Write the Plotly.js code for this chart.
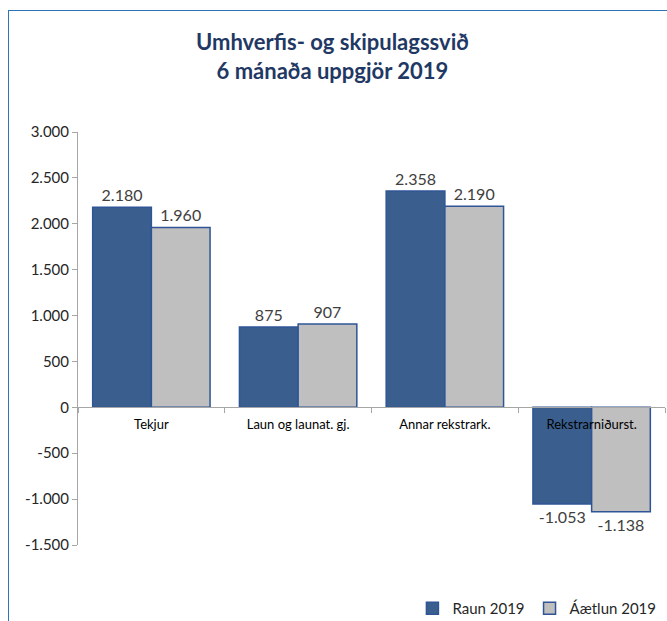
<!DOCTYPE html>
<html>
<head>
<meta charset="utf-8">
<script src="https://cdn.plot.ly/plotly-3.0.1.min.js"></script>
<style>
  html, body { margin: 0; padding: 0; background: #fff; }
  #frame { position: absolute; left: 8px; top: 10px; width: 659px; height: 611px;
           border-left: 1.5px solid #2E75B6; border-top: 1.5px solid #2E75B6; box-sizing: border-box; }
  #chart { position: absolute; left: 1px; top: 1px; width: 658px; height: 610px; }
</style>
</head>
<body>
<div id="frame"><div id="chart"></div></div>
<script>
const categories = ["Tekjur", "Laun og launat. gj.", "Annar rekstrark.", "Rekstrarniðurst."];
const raun2019 = [2180, 875, 2358, -1053];
const aaetlun2019 = [1960, 907, 2190, -1138];
const seriesNames = ["Raun 2019", "Áætlun 2019"];
const yTickVals = [-1500, -1000, -500, 0, 500, 1000, 1500, 2000, 2500, 3000];
const yTickText = ["-1.500", "-1.000", "-500", "0", "500", "1.000", "1.500", "2.000", "2.500", "3.000"];

function fmt(v) {
  const s = Math.abs(v).toString().replace(/\B(?=(\d{3})+(?!\d))/g, ".");
  return (v < 0 ? "-" : "") + s;
}

const font = "Lato, 'Open Sans', sans-serif";
const outline = { color: "#2F5597", width: 1.5 };

const traces = [
  {
    type: "bar", name: seriesNames[0], x: categories, y: raun2019,
    text: raun2019.map(fmt), textposition: "outside", cliponaxis: false,
    textfont: { family: font, size: 16, color: "#404040" },
    marker: { color: "#3A5F8F", line: outline }
  },
  {
    type: "bar", name: seriesNames[1], x: categories, y: aaetlun2019,
    text: aaetlun2019.map(fmt), textposition: "outside", cliponaxis: false,
    textfont: { family: font, size: 16, color: "#404040" },
    marker: { color: "#BFBFBF", line: outline }
  }
];

const layout = {
  width: 658, height: 610,
  margin: { l: 68, r: 3, t: 120, b: 77, autoexpand: false },
  paper_bgcolor: "#fff", plot_bgcolor: "#fff",
  font: { family: font, color: "#404040" },
  title: {
    text: "Umhverfis- og skipulagssvið<br>6 mánaða uppgjör 2019",
    font: { family: font, size: 22, color: "#1F3864", weight: "bold" },
    x: 0.49, xanchor: "center", y: 0.937, yanchor: "top"
  },
  barmode: "group", bargap: 0.2, bargroupgap: 0,
  showlegend: true,
  legend: {
    orientation: "h", xref: "container", yref: "container",
    x: 0.99, xanchor: "right", y: 0.022, yanchor: "middle",
    font: { family: font, size: 15, color: "#262626" }, traceorder: "normal"
  },
  xaxis: {
    anchor: "free", position: 1/3, automargin: false,
    showline: true, linecolor: "#A6A6A6", linewidth: 1,
    ticks: "outside", tickson: "boundaries", ticklen: 5, tickcolor: "#A6A6A6",
    ticklabelstandoff: 5,
    showgrid: false, zeroline: false,
    tickfont: { family: font, size: 13, color: "#000" }
  },
  yaxis: {
    range: [-1500, 3000], automargin: false,
    tickvals: yTickVals, ticktext: yTickText,
    showline: true, linecolor: "#A6A6A6", linewidth: 1,
    ticks: "outside", ticklen: 5, tickcolor: "#A6A6A6",
    showgrid: false, zeroline: false,
    tickfont: { family: font, size: 15, color: "#262626" }
  }
};

Plotly.newPlot("chart", traces, layout, { displayModeBar: false, staticPlot: true });
</script>
</body>
</html>
